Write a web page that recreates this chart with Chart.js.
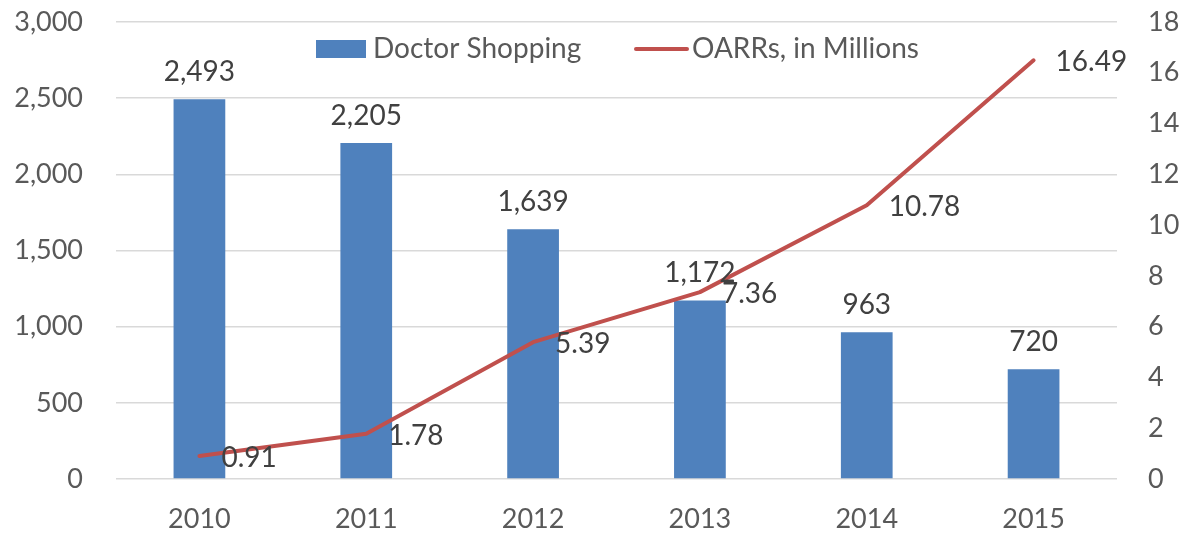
<!DOCTYPE html>
<html><head><meta charset="utf-8">
<script src="https://cdn.jsdelivr.net/npm/chart.js@4/dist/chart.umd.min.js"></script>
<style>html,body{margin:0;padding:0;background:#fff}#wrap{width:1182px;height:533px}</style>
</head><body><div id="wrap"><canvas id="c" width="1182" height="533"></canvas></div>
<script>
const years = ['2010','2011','2012','2013','2014','2015'];
const doctorShopping = [2493, 2205, 1639, 1172, 963, 720];
const oarrs = [0.91, 1.78, 5.39, 7.36, 10.78, 16.49];
const leftTicks = [0, 500, 1000, 1500, 2000, 2500, 3000];
const rightTicks = [0, 2, 4, 6, 8, 10, 12, 14, 16, 18];
const seriesNames = ['Doctor Shopping', 'OARRs, in Millions'];

const FONT = 'Lato, "Open Sans", sans-serif';
const BLUE = '#4f81bd', RED = '#c0504d', TXT = '#595959', LBL = '#404040';

const labelsPlugin = {
  id: 'labelsPlugin',
  afterDatasetsDraw(chart) {
    const ctx = chart.ctx;
    ctx.save();
    ctx.font = '28px ' + FONT;
    ctx.fillStyle = LBL;
    const bm = chart.getDatasetMeta(0);
    bm.data.forEach((el, i) => {
      ctx.textAlign = 'center'; ctx.textBaseline = 'bottom';
      ctx.fillText(doctorShopping[i].toLocaleString('en-US'), el.x, el.y - 13);
    });
    const lm = chart.getDatasetMeta(1);
    lm.data.forEach((el, i) => {
      ctx.textAlign = 'left'; ctx.textBaseline = 'middle';
      ctx.fillText(oarrs[i].toFixed(2), el.x + 22, el.y + 2);
    });
    // legend
    ctx.fillStyle = BLUE;
    ctx.fillRect(316, 40, 50, 18);
    ctx.fillStyle = TXT;
    ctx.textAlign = 'left'; ctx.textBaseline = 'middle';
    ctx.fillText(seriesNames[0], 373, 49);
    ctx.strokeStyle = RED; ctx.lineWidth = 4; ctx.lineCap = 'round';
    ctx.beginPath(); ctx.moveTo(636, 49); ctx.lineTo(687, 49); ctx.stroke();
    ctx.fillText(seriesNames[1], 692, 49);
    ctx.restore();
  }
};

function fitY(w) {
  return function (s) { s.width = w; s.paddingTop = 0; s.paddingBottom = 0; };
}

new Chart(document.getElementById('c'), {
  data: {
    labels: years,
    datasets: [
      { type: 'bar', label: seriesNames[0], data: doctorShopping, backgroundColor: BLUE,
        yAxisID: 'y', order: 2, barPercentage: 0.31, categoryPercentage: 1 },
      { type: 'line', label: seriesNames[1], data: oarrs, borderColor: RED, borderWidth: 4,
        pointRadius: 0, tension: 0, borderCapStyle: 'round', borderJoinStyle: 'round',
        yAxisID: 'y1', order: 1 }
    ]
  },
  options: {
    responsive: false, animation: false, devicePixelRatio: 1,
    layout: { padding: { top: 22, right: 0, left: 0, bottom: 0 } },
    plugins: { legend: { display: false }, tooltip: { enabled: false } },
    scales: {
      x: {
        grid: { display: false, drawTicks: false },
        border: { display: false },
        ticks: { color: TXT, font: { family: FONT, size: 27 }, padding: 24 },
        afterFit(s) { s.height = 54; s.paddingLeft = 0; s.paddingRight = 0; }
      },
      y: {
        position: 'left', min: 0, max: 3000,
        afterBuildTicks(s) { s.ticks = leftTicks.map(v => ({ value: v })); },
        grid: { color: '#d9d9d9', lineWidth: 1.5, drawTicks: false, tickLength: 0 },
        border: { display: false },
        ticks: { color: TXT, font: { family: FONT, size: 27 }, padding: 33,
          callback: v => v.toLocaleString('en-US') },
        afterFit: fitY(116)
      },
      y1: {
        position: 'right', min: 0, max: 18,
        afterBuildTicks(s) { s.ticks = rightTicks.map(v => ({ value: v })); },
        grid: { display: false, drawTicks: false, tickLength: 0 },
        border: { display: false },
        ticks: { color: TXT, font: { family: FONT, size: 27 }, padding: 31 },
        afterFit: fitY(65)
      }
    }
  },
  plugins: [labelsPlugin]
});
</script></body></html>
